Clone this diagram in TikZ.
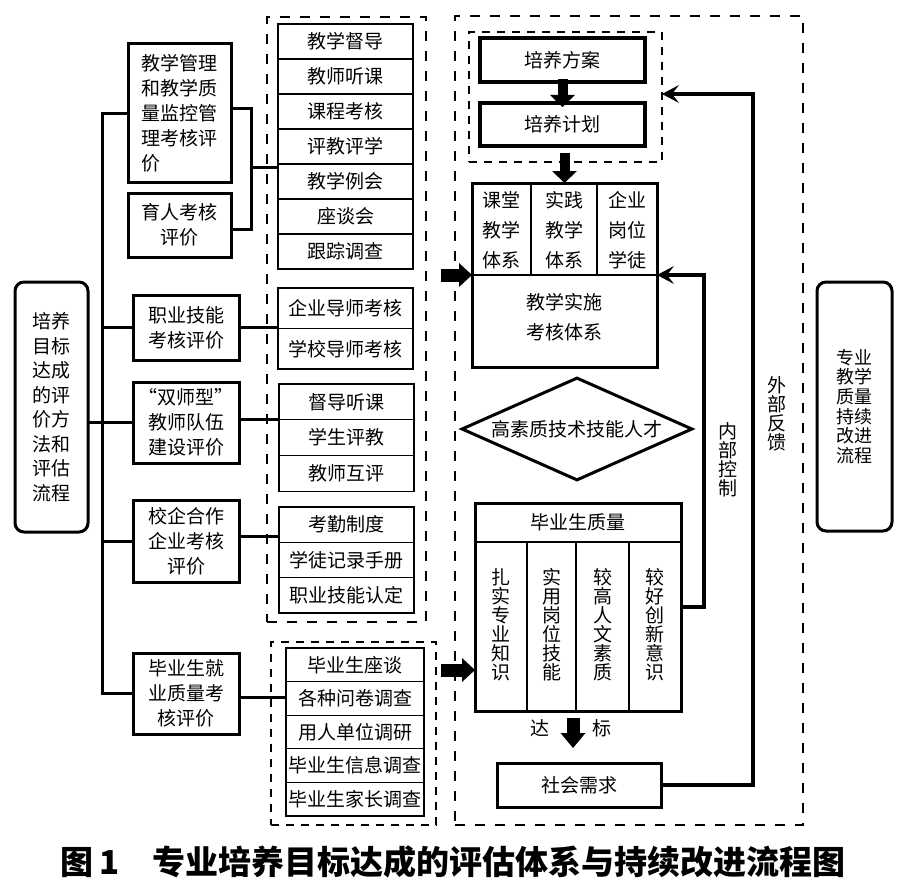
\documentclass[tikz,border=0pt]{standalone}
\usepackage{fontspec}
\setmainfont{Noto Sans CJK SC}
\usetikzlibrary{arrows.meta,calc,shapes.geometric}
\begin{document}
\begin{tikzpicture}[x=1pt,y=-1pt,
  tbox/.style={draw, line width=3pt, inner sep=0pt, outer sep=0pt, align=center, anchor=north west, font=\fontsize{19}{25}\selectfont},
  cell/.style={draw, line width=1.2pt, inner sep=0pt, outer sep=0pt, anchor=north west, font=\fontsize{19}{23}\selectfont},
  dashA/.style={draw, line width=2.8pt, dash pattern=on 10pt off 10pt, inner sep=0pt, outer sep=0pt, anchor=north west},
  dashB/.style={draw, line width=2pt, dash pattern=on 8pt off 7pt, inner sep=0pt, outer sep=0pt, anchor=north west},
  conn/.style={line width=3pt},
  thinln/.style={line width=1.3pt},
  fb/.style={line width=3.2pt, -{Stealth[length=17pt,width=18pt,inset=7pt,line width=0pt]}},
  blk/.style={line width=10pt, -{Triangle[length=12pt,width=25pt,line width=0pt]}},
  blkh/.style={line width=13pt, -{Triangle[length=13pt,width=24pt,line width=0pt]}},
  blkd/.style={line width=13pt, -{Triangle[length=15pt,width=25pt,line width=0pt]}},
  txt/.style={inner sep=0pt, align=center, font=\fontsize{19}{30}\selectfont},
  vt/.style={inner sep=0pt, align=center, font=\fontsize{19}{19}\selectfont},
]
\useasboundingbox (0,0) rectangle (900,883);

% dashed containers
\node[dashA, minimum width=159, minimum height=605] (DL) at (267,17) {};
\node[dashB, minimum width=165, minimum height=183] (DE) at (271,642) {};
\node[dashA, minimum width=348, minimum height=809] (DR) at (455,16) {};
\node[dashB, minimum width=193, minimum height=130] (PF) at (469,32) {};

% left box
\node[tbox, rounded corners=9pt, minimum width=73, minimum height=250, font=\fontsize{19}{24.5}\selectfont] (L) at (15,282)
  {培养\\目标\\达成\\的评\\价方\\法和\\评估\\流程};

% branch boxes
\node[tbox, align=left, minimum width=103, minimum height=138] (B1) at (128,44) {教学管理\\和教学质\\量监控管\\理考核评\\价};
\node[tbox, minimum width=103, minimum height=64] (B2) at (128,193) {育人考核\\评价};
\node[tbox, minimum width=106, minimum height=65] (B3) at (133,295) {职业技能\\考核评价};
\node[tbox, minimum width=106, minimum height=81] (B4) at (133,382) {“双师型”\\教师队伍\\建设评价};
\node[tbox, minimum width=106, minimum height=82] (B5) at (133,500) {校企合作\\企业考核\\评价};
\node[tbox, minimum width=106, minimum height=81] (B6) at (133,653) {毕业生就\\业质量考\\核评价};

% list cells
\foreach \t [count=\i] in {教学督导,教师听课,课程考核,评教评学,教学例会,座谈会,跟踪调查}
  \node[cell, minimum width=135, minimum height=35] (A\i) at (278,{24+35*(\i-1)}) {\t};
\foreach \t [count=\i] in {企业导师考核,学校导师考核}
  \node[cell, minimum width=135, minimum height=40.5] (G\i) at (278,{288+40.5*(\i-1)}) {\t};
\foreach \t [count=\i] in {督导听课,学生评教,教师互评}
  \node[cell, minimum width=135, minimum height=35.7] (C\i) at (279,{384+35.7*(\i-1)}) {\t};
\foreach \t [count=\i] in {考勤制度,学徒记录手册,职业技能认定}
  \node[cell, minimum width=135, minimum height=35.3] (D\i) at (279,{507+35.3*(\i-1)}) {\t};
\foreach \t [count=\i] in {毕业生座谈,各种问卷调查,用人单位调研,毕业生信息调查,毕业生家长调查}
  \node[cell, minimum width=138, minimum height=33.6] (E\i) at (286,{648+33.6*(\i-1)}) {\t};

% trunk and branches
\coordinate (tk) at (102,0);
\draw[conn] (B1.west) -| (tk |- B6.west) -- (B6.west);
\draw[conn] (B3.west) -- (B3.west -| tk);
\draw[conn] (B5.west) -- (B5.west -| tk);
\draw[conn] (L.east |- B4.west) -- (B4.west);
\draw[conn] ([yshift=5pt]B1.east) -- ++(20,0) |- ([yshift=-4pt]B2.east);
\coordinate (j1) at (251,167);
\draw[conn] (j1) -- (j1 -| A1.west);
\draw[conn] (B3.east) -- (B3.east -| G1.west);
\draw[conn] ([yshift=3pt]B4.east) -- ([yshift=3pt]B4.east -| C1.west);
\draw[conn] ([yshift=5pt]B5.east) -- ([yshift=5pt]B5.east -| D1.west);
\draw[conn] ([yshift=-4pt]B6.east) -- ([yshift=-4pt]B6.east -| E1.west);

% right part
\node[tbox, line width=3.5pt, minimum width=165, minimum height=44] (PA) at (480,38) {培养方案};
\node[tbox, line width=3.5pt, minimum width=165, minimum height=43] (PB) at (480,103) {培养计划};
\draw[blk] ([yshift=3pt]PA.south) -- ([yshift=-4pt]PB.north);

\node[tbox, minimum width=185, minimum height=184] (GT) at (472,183) {};
\coordinate (pfb) at (0,153);
\draw[blk] (GT.north |- pfb) -- (GT.north);
\draw[thinln] (GT.west) -- (GT.east);
\draw[thinln] (531,183) -- (531,275);
\draw[thinln] (597,183) -- (597,275);
\node[txt] (g1) at (501.5,230) {课堂\\教学\\体系};
\node[txt] (g2) at (564,230) {实践\\教学\\体系};
\node[txt] (g3) at (627,230) {企业\\岗位\\学徒};
\node[txt] (g4) at (564.5,317) {教学实施\\考核体系};

\coordinate (la1) at (441,275);
\draw[blkh] (la1) -- (GT.west);

\node[draw, diamond, line width=3pt, minimum width=231, minimum height=103, inner sep=0pt] (DM) at (577,429) {};
\node[inner sep=0pt, font=\fontsize{19}{19}\selectfont] (DMt) at (DM.center) {高素质技术技能人才};

\node[tbox, minimum width=206, minimum height=208] (GQ) at (475,503) {};
\draw[thinln] (475,542) -- (681,542);
\draw[thinln] (527,542) -- (527,711);
\draw[thinln] (576,542) -- (576,711);
\draw[thinln] (629,542) -- (629,711);
\node[inner sep=0pt, font=\fontsize{19}{19}\selectfont] (gqt) at (578,522) {毕业生质量};
\node[vt] (q1) at (501,625) {扎\\实\\专\\业\\知\\识};
\node[vt] (q2) at (552,625) {实\\用\\岗\\位\\技\\能};
\node[vt] (q3) at (603,625) {较\\高\\人\\文\\素\\质};
\node[vt] (q4) at (655,625) {较\\好\\创\\新\\意\\识};

\coordinate (la2) at (441,670);
\draw[blkh] (la2) -- (la2 -| GQ.west);

\draw[fb] (GQ.east) -- ++(23,0) |- (GT.east);
\node[vt] (nk) at (728,460) {内\\部\\控\\制};

\node[tbox, minimum width=164, minimum height=44] (SN) at (497,763) {社会需求};
\draw[fb] (SN.east) -- ++(92,0) |- ([yshift=3pt]PF.east);
\node[vt] (wb) at (777,414) {外\\部\\反\\馈};

\coordinate (d1) at (573,718);
\coordinate (d2) at (573,748);
\draw[blkd] (d1) -- (d2);
\node[inner sep=0pt, font=\fontsize{19}{19}\selectfont] (da) at (540,728) {达};
\node[inner sep=0pt, font=\fontsize{19}{19}\selectfont] (bi) at (602,728) {标};

\node[tbox, rounded corners=9pt, minimum width=75, minimum height=249, font=\fontsize{18}{19.6}\selectfont] (RB) at (817,282)
  {专业\\教学\\质量\\持续\\改进\\流程};

% caption
\node[anchor=west, inner sep=0pt, font=\fontsize{33}{33}\selectfont\bfseries] (cap) at (60,862)
  {图\hspace{6pt}1\hspace{33pt}专业培养目标达成的评估体系与持续改进流程图};
\end{tikzpicture}
\end{document}
